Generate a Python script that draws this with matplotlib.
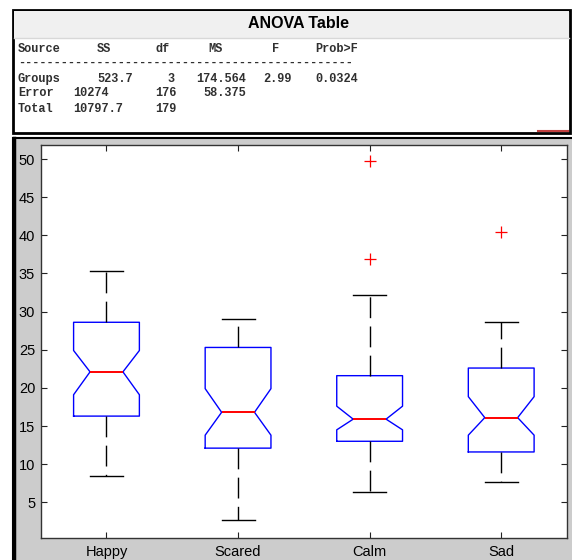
import matplotlib
matplotlib.use("Agg")
import matplotlib.pyplot as plt
from matplotlib.patches import Rectangle

# one-way ANOVA summary
table_head = ["Source", "SS", "df", "MS", "F", "Prob>F"]
sources = ["Groups", "Error", "Total"]
ss = ["523.7", "10274", "10797.7"]
dof = ["3", "176", "179"]
ms = ["174.564", "58.375", ""]
f_stat = ["2.99", "", ""]
p_val = ["0.0324", "", ""]

# per-group box summaries
groups = ["Happy", "Scared", "Calm", "Sad"]
medians = [22.1, 16.8, 15.9, 16.1]
q1 = [16.3, 12.1, 13.0, 11.6]
q3 = [28.6, 25.3, 21.6, 22.6]
whis_lo = [8.5, 2.7, 6.3, 7.7]
whis_hi = [35.3, 29.0, 32.2, 28.7]
notch_lo = [19.1, 13.8, 14.5, 13.8]
notch_hi = [24.9, 19.9, 17.6, 18.85]
outliers = [[], [], [49.7, 36.9], [40.4]]

W, H = 572, 560
fig = plt.figure(figsize=(W / 100, H / 100), dpi=100, facecolor="white")

# background layer in pixel units
bg = fig.add_axes([0, 0, 1, 1], zorder=0)
bg.set_xlim(0, W)
bg.set_ylim(H, 0)
bg.axis("off")

# table window
bg.add_patch(Rectangle((13, 10), 557, 123, facecolor="white", edgecolor="black", lw=2))
bg.add_patch(Rectangle((14, 11), 555, 27, facecolor="#f0f0f0", edgecolor="none"))
bg.plot([14, 569], [38, 38], color="#d8d8d8", lw=1)
bg.plot([538, 568], [130.5, 130.5], color="#c04040", lw=1.5)
bg.text(298, 24, "ANOVA Table", ha="center", va="center",
        fontsize=11.5, fontweight="bold", family="Liberation Sans")

mono = dict(family="Liberation Mono", fontsize=8.6, fontweight="bold",
            va="center", ha="left", color="#303030")
col_x = [18, 97, 155, 208, 272, 315]
for x, s in zip(col_x, table_head):
    bg.text(x, 49, s, **mono)
bg.text(18, 63, "-" * 47, **mono)

row_y = [79, 93.5, 109]
cell_x = {
    "Groups": [18, 97, 168, 196, 263, 315],
    "Error": [18, 73, 155, 203, 263, 315],
    "Total": [18, 73, 155, 203, 263, 315],
}
for i, src in enumerate(sources):
    cells = [src, ss[i], dof[i], ms[i], f_stat[i], p_val[i]]
    for x, s in zip(cell_x[src], cells):
        if s:
            bg.text(x, row_y[i], s, **mono)

# boxplot panel
bg.add_patch(Rectangle((13, 138), 562, 425, facecolor="#cccccc", edgecolor="black", lw=1.5))
bg.plot([14, 14], [138, 560], color="black", lw=2.5)

ax = fig.add_axes([40.7 / W, 1 - 538 / H, (567 - 40.7) / W, (538 - 145) / H], zorder=1)
ax.set_facecolor("white")

stats = []
for i, g in enumerate(groups):
    stats.append(dict(label=g, med=medians[i], q1=q1[i], q3=q3[i],
                      whislo=whis_lo[i], whishi=whis_hi[i],
                      cilo=notch_lo[i], cihi=notch_hi[i], fliers=outliers[i]))

ax.bxp(stats, positions=[1, 2, 3, 4], widths=0.5, shownotches=True,
       boxprops=dict(color="#0000ff", lw=1),
       medianprops=dict(color="#ff0000", lw=1.4),
       whiskerprops=dict(color="black", lw=1, linestyle=(0, (15, 6))),
       capprops=dict(color="black", lw=1),
       flierprops=dict(marker="+", markeredgecolor="#ff0000", markersize=8,
                       markeredgewidth=0.9, linestyle="none"))

ax.set_xlim(0.5, 4.5)
ax.set_ylim(0.32, 51.84)
ax.set_yticks(range(5, 51, 5))
ax.set_xticks([1, 2, 3, 4])
ax.set_xticklabels(groups)
ax.tick_params(direction="in", top=True, right=True, length=4, width=0.8,
               labelsize=10.5, color="#222222")
ax.tick_params(axis="x", pad=5)
ax.tick_params(axis="y", pad=4)
for lab in ax.get_xticklabels() + ax.get_yticklabels():
    lab.set_family("Liberation Sans")
for sp in ax.spines.values():
    sp.set_color("#333333")
    sp.set_linewidth(1)

fig.savefig("out.png", dpi=100, facecolor="white")
